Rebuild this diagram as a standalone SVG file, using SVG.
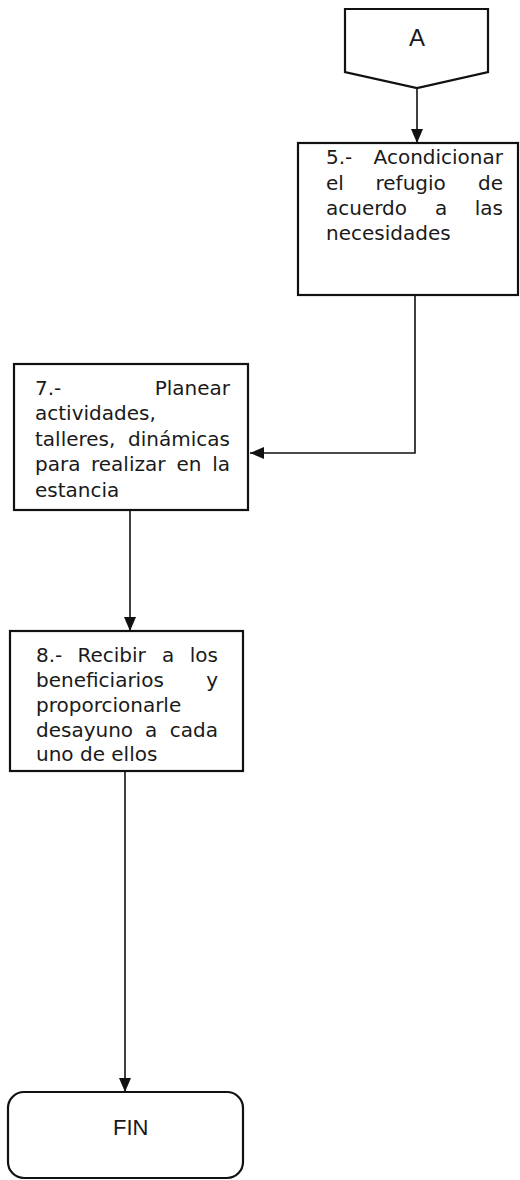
<svg xmlns="http://www.w3.org/2000/svg" width="520" height="1180" viewBox="0 0 520 1180">
<defs>
<marker id="arr" markerUnits="userSpaceOnUse" markerWidth="14" markerHeight="14" viewBox="0 0 14 14" refX="14" refY="7" orient="auto">
<path d="M0,1 L14,7 L0,13 z" fill="#111"/>
</marker>
<style>
.box{fill:#fff;stroke:#111;stroke-width:2.2}
.t{font-family:"DejaVu Sans","Liberation Sans",sans-serif;font-size:20px;fill:#1a1a1a}
.e{text-anchor:end}
.c{text-anchor:middle}
.con{fill:none;stroke:#111;stroke-width:1.6}
</style>
</defs>
<rect width="520" height="1180" fill="#fff"/>
<g id="connectors">
<path class="con" d="M417,88 V143" marker-end="url(#arr)"/>
<path class="con" d="M415,295 V453 H250" marker-end="url(#arr)"/>
<path class="con" d="M130,510 V631" marker-end="url(#arr)"/>
<path class="con" d="M125,771 V1092" marker-end="url(#arr)"/>
</g>
<g id="connectorA">
<path class="box" d="M345,9 H488 V72 L417,88 L345,72 Z"/>
<text class="c" x="417" y="46" font-family="Liberation Sans, sans-serif" font-size="24" fill="#1a1a1a">A</text>
</g>
<g id="step5">
<rect class="box" x="298" y="143" width="220" height="152"/>
<text class="t" x="326" y="164">5.-</text><text class="t e" x="503" y="164">Acondicionar</text>
<text class="t" x="326" y="190">el</text><text class="t" x="375.5" y="190">refugio</text><text class="t e" x="503" y="190">de</text>
<text class="t" x="326" y="215">acuerdo</text><text class="t" x="435" y="215">a</text><text class="t e" x="503" y="215">las</text>
<text class="t" x="326" y="240">necesidades</text>
</g>
<g id="step7">
<rect class="box" x="14" y="364" width="234" height="146"/>
<text class="t" x="35" y="395">7.-</text><text class="t e" x="230" y="395">Planear</text>
<text class="t" x="35" y="420">actividades,</text>
<text class="t" x="35" y="446">talleres,</text><text class="t e" x="230" y="446">dinámicas</text>
<text class="t" x="35" y="471">para</text><text class="t" x="91" y="471">realizar</text><text class="t" x="176.5" y="471">en</text><text class="t e" x="230" y="471">la</text>
<text class="t" x="35" y="497">estancia</text>
</g>
<g id="step8">
<rect class="box" x="10" y="631" width="233" height="140"/>
<text class="t" x="36" y="662">8.-</text><text class="t" x="77.5" y="662">Recibir</text><text class="t" x="162" y="662">a</text><text class="t e" x="218" y="662">los</text>
<text class="t" x="36" y="687">beneficiarios</text><text class="t e" x="218" y="687">y</text>
<text class="t" x="36" y="712">proporcionarle</text>
<text class="t" x="36" y="737">desayuno</text><text class="t" x="145" y="737">a</text><text class="t e" x="218" y="737">cada</text>
<text class="t" x="36" y="761">uno de ellos</text>
</g>
<g id="fin">
<rect class="box" x="8" y="1092" width="235" height="86" rx="16"/>
<text x="113" y="1135" font-family="Liberation Sans, sans-serif" font-size="22" fill="#1a1a1a">FIN</text>
</g>
</svg>
